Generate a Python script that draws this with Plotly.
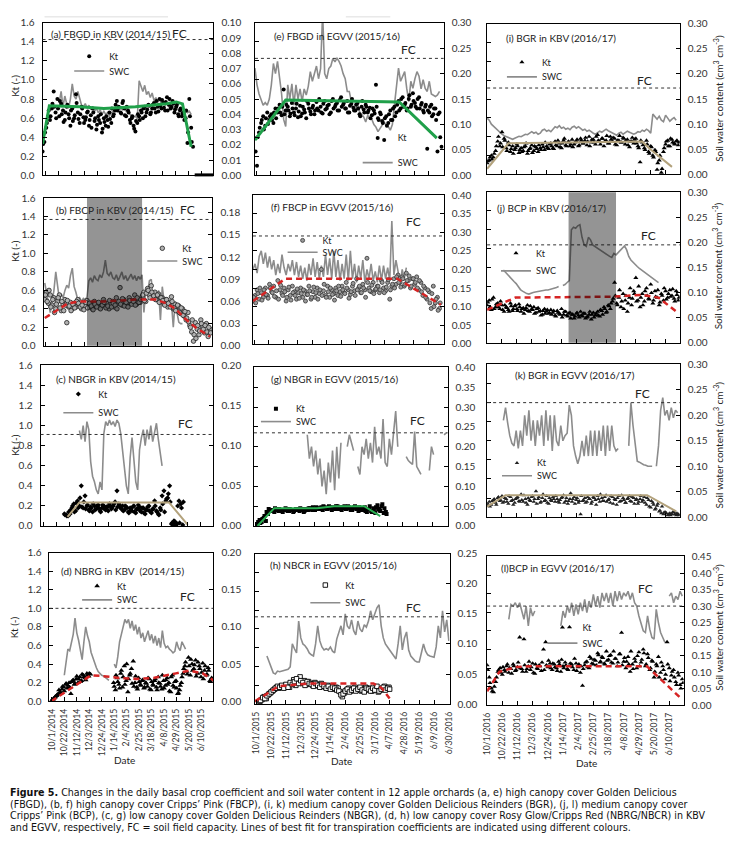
import datetime as dt
import plotly.graph_objects as go

W, H = 746, 853
FONT = "Lato, 'Open Sans', sans-serif"
CAP_FONT = "'Liberation Sans Narrow', 'DejaVu Sans Condensed', 'Arial Narrow', Lato, sans-serif"
N = None

# ---------------- date frames (one per column / season) ----------------
COL_START = {1: dt.date(2014, 9, 27), 2: dt.date(2015, 9, 29), 3: dt.date(2016, 10, 1)}
COL_END = {1: dt.date(2015, 6, 30), 2: dt.date(2016, 7, 1), 3: dt.date(2017, 6, 30)}
TICK0 = {1: "2014-10-01", 2: "2015-10-01", 3: "2016-10-01"}
STEP = 3  # days between listed readings

# ---------------- data: Kt (x100), SWC (x1000), fitted Kt lines ----------------
# (a) FBGD in KBV (2014/15)
KT_A_START = 0
KT_A = [25,35,50,62,58,70,88,66,80,62,75,68,58,72,64,52,70,60,85,66,55,72,61,58,66,52,63,70,57,48,
        62,55,45,60,52,58,66,55,62,68,78,72,66,76,70,62,68,58,60,52,46,55,62,68,60,72,66,74,64,70,
        76,66,72,80,70,76,68,82,74,70,78,66,72,64,68,62,66,60,34,80,50,30]
KT_A2_START = 1
KT_A2 = [33,45,55,68,62,75,72,60,70,78,64,56,66,74,60,68,57,63,76,59,64,70,55,61,67,58,50,66,60,53,
         58,64,49,56,62,51,59,70,64,74,68,71,65,78,63,72,66,55,62,49,57,64,58,66,70,62,69,73,66,74,
         70,78,67,73,79,71,77,68,80,72,75,69,74,62,70,65,58,68,45,62,35]
SWC_A_START = 27
SWC_A = [48,55,45,52,47,44,50,60,52,50,55,50,46,45,47,44,46,43,45,42,44,41,43,40,42,40,41,39,41,42,
         44,43,45,44,43,45,42,43,40,39,38,39,37,62,58,55,59,53,55,51,54,49,51,48,50,47,48,46,47,45,
         46,44,45,44,43,44,42,43,42,41,42,40]
FIT_A_DAY = [0, 11, 60, 99, 150, 200, 216, 226, 240]
FIT_A = [0.33, 0.73, 0.72, 0.70, 0.72, 0.75, 0.77, 0.75, 0.30]
FC_A = 0.089

# (b) FBCP in KBV (2014/15)
KT_B_START = 2
KT_B = [50,58,46,55,44,52,40,48,55,38,45,50,25,42,47,40,46,42,50,44,40,47,43,49,42,45,40,48,43,46,
        41,44,50,43,46,40,45,48,42,52,46,63,44,50,47,43,52,46,49,55,45,50,47,53,58,48,62,55,65,52,
        58,50,56,48,52,45,50,42,47,53,40,45,38,43,35,40,32,28,36,22,15,5,25,18,12,28,20,14,24,10,18]
KT_B2_START = 3
KT_B2 = [55,48,60,42,50,36,45,52,41,48,38,44,49,43,38,45,41,48,46,42,44,39,47,41,46,43,39,45,42,47,
         40,44,47,41,43,49,42,46,44,40,48,45,51,43,47,42,49,45,48,44,52,47,50,55,49,57,60,52,58,54,
         50,55,47,52,49,44,50,46,42,48,41,38,44,36,41,33,37,30,26,20,28,12,8,22,16,24,18,22,15,20,14]
SWC_B_START = 2
SWC_B = [85,70,55,45,60,75,100,80,62,70,65,75,82,78,95,105,80,72,62,65,60,64,62,66,88,92,86,95,90,88,
         96,92,100,116,98,95,100,92,90,96,88,94,100,90,95,88,92,97,90,95,88,94,90,96,45,75,72,88,90,65,
         72,60,75,35,80,60,55,62,50,58,25,60,45,32,30,30]
FIT_B_DAY = [2, 40, 60, 100, 150, 183, 200, 216, 230, 248, 272]
FIT_B = [0.30, 0.46, 0.48, 0.48, 0.50, 0.50, 0.46, 0.40, 0.30, 0.20, 0.10]
FC_B = 0.171
SHADE_B = (71, 161)

# (c) NBGR in KBV (2014/15)
KT_C_START = 38
KT_C = [12,11,10,12,18,22,15,25,20,40,18,30,20,16,19,14,20,17,21,15,18,20,16,19,22,17,20,24,35,22,
        18,20,16,19,14,18,15,20,13,17,19,14,18,12,16,20,14,17,25,15,12,18,30,35,25,28,40,2,1,4,2,25,22,1]
KT_C2_START = 39
KT_C2 = [11,10,14,16,20,14,23,18,28,19,24,17,21,15,18,22,16,20,18,14,21,17,19,15,20,18,22,16,19,21,
         17,15,20,18,13,16,19,14,17,21,15,18,13,16,19,15,13,17,20,14,11,16,22,14,27,32,24,3,5,0,20,3,18,24]
SWC_C_START = 62
SWC_C = [119,108,125,105,130,120,80,62,55,45,40,55,45,115,130,125,132,126,130,124,132,128,115,90,70,
         50,40,85,110,80,55,45,95,110,120,100,120,108,125,105,118,128,108,88,75]
FIT_C_DAY = [43, 62, 205, 235]
FIT_C = [0.09, 0.235, 0.235, 0.01]
FC_C = 0.114

# (d) NBRG in KBV (2014/15)
KT_D_START = 3
KT_D = [0,2,4,6,8,10,13,15,18,14,20,8,22,18,24,20,26,22,28,25,30,27,29,
        N,N,N,N,N,N,N,N,N,N,N,N,
        20,12,25,18,30,15,38,22,10,28,35,43,20,15,25,18,22,14,20,16,24,12,18,22,15,26,19,13,22,17,
        25,20,10,28,15,22,8,12,20,30,38,32,47,28,40,35,44,30,38,26,41,33,28,36,22,25]
KT_D2_START = 4
KT_D2 = [1,3,5,7,12,9,16,11,19,17,15,21,23,19,27,24,21,29,26,23,28,30,
         N,N,N,N,N,N,N,N,N,N,N,N,N,
         16,28,21,14,33,26,18,40,24,30,19,16,27,13,21,17,23,15,19,25,13,21,17,24,12,20,16,28,14,23,
         18,11,26,17,21,14,9,17,26,35,42,29,38,45,33,39,27,42,35,31,24,38,29,33,21]
SWC_D_START = 25
SWC_D = [35,55,70,68,78,90,112,92,82,70,56,80,100,88,80,66,58,50,45,40,37,35,34,32,30,28,N,N,
         50,45,60,80,90,100,110,105,110,98,108,95,103,90,100,85,92,80,88,95,82,90,78,88,75,85,72,95,
         78,72,74,70,68,65,67,80,72,68,80,75,70]
FIT_D_DAY = [3, 70, 91, 119, 147, 175, 213, 235, 258, 282]
FIT_D = [0.0, 0.28, 0.27, 0.25, 0.24, 0.25, 0.30, 0.33, 0.30, 0.20]
FC_D = 0.125

# (e) FBGD in EGVV (2015/16)
KT_E_START = 0
KT_E = [39,10,45,55,62,52,66,58,64,55,70,66,74,63,90,68,72,62,76,66,70,61,73,65,69,60,75,67,71,64,
        77,68,72,65,78,70,74,66,80,72,76,68,82,74,70,78,66,75,71,68,76,64,72,69,74,66,71,63,68,95,
        60,66,57,37,62,55,68,58,72,66,78,70,82,74,68,80,72,86,76,70,82,74,68,72,28,66,74,64,70,25,66,30]
KT_E2_START = 1
KT_E2 = [25,40,50,58,48,60,54,62,58,66,60,70,66,72,64,74,68,65,70,63,75,67,62,72,66,78,70,64,73,68,
         70,80,66,75,69,73,64,78,70,74,68,79,72,76,70,66,73,80,68,74,70,62,78,66,72,68,60,70,65,72,
         58,64,55,60,52,64,58,70,62,74,68,80,72,76,70,84,74,78,72,80,70,76,66,74,68,72,62,70,58,64,40]
SWC_E_START = 0
SWC_E = [211,178,160,148,138,143,138,150,178,220,200,224,190,160,110,96,178,150,180,138,
         178,150,170,145,170,158,175,204,185,200,215,190,210,320,200,190,210,215,230,223,
         230,224,215,200,190,165,165,145,130,125,145,125,120,115,105,118,112,110,100,95,
         86,92,100,105,98,96,89,100,138,171,211,185,195,204,171,145,185,171,190,204,
         195,170,188,171,165,185,160,158,155,158,165]
FIT_E_DAY = [0, 45, 211, 266]
FIT_E = [0.37, 0.79, 0.77, 0.39]
FC_E = 0.23

# (f) FBCP in EGVV (2015/16)
KT_F_START = 0
KT_F = [46,52,58,48,55,50,60,52,64,56,62,50,68,58,54,60,46,58,52,62,56,48,55,60,50,57,53,62,48,56,
        50,60,54,80,57,52,62,50,58,54,60,52,56,62,55,66,58,53,62,57,70,60,55,64,58,92,60,56,66,58,
        62,55,68,60,57,66,48,62,70,64,74,66,72,62,76,68,60,70,64,72,58,66,52,60,48,56,38,62,44,50,38]
KT_F2_START = 1
KT_F2 = [50,44,54,60,47,58,53,49,60,55,51,57,48,63,52,56,50,61,47,55,52,59,49,54,58,46,53,57,50,61,
         55,48,58,52,64,50,56,60,53,47,57,62,51,58,54,60,49,56,65,52,58,62,55,60,50,66,57,63,54,59,
         62,58,66,55,61,69,58,64,60,72,66,61,70,64,68,73,62,70,66,60,68,56,62,50,58,44,54,40,48,36,44]
SWC_F_START = 0
SWC_F = [200,215,190,235,250,215,245,205,235,200,225,185,215,190,240,205,185,215,195,225,
         185,220,180,210,175,205,170,215,185,230,180,220,175,210,180,240,185,230,175,250,
         180,225,170,215,175,240,170,250,175,215,165,210,175,225,165,200,175,215,170,195,
         165,210,170,210,175,205,170,330,185,225,195,160,200,175,205]
FIT_F_DAY = [0, 47, 209, 272]
FIT_F = [0.46, 0.70, 0.70, 0.42]
FC_F = 0.29

# (g) NBGR in EGVV (2015/16)
KT_G_START = 5
KT_G = [2,6,4,8,5,12,15,16,14,17,15,16,14,16,17,15,16,14,16,17,15,16,14,17,16,18,16,17,19,17,
        18,16,19,17,20,18,19,17,20,18,16,19,17,20,18,16,19,17,15,18,16,19,14,17,15,18,13,21,16,20,13,14]
KT_G2_START = 6
KT_G2 = [4,3,7,10,14,17,15,16,18,16,17,15,16,18,15,17,16,15,17,16,18,17,15,16,18,17,19,16,18,17,
         19,20,18,17,19,16,18,20,17,19,18,20,17,19,16,18,20,17,19,16,18,15,17,20,14,16,19,17,15,22,18,12]
SWC_G_START = 76
SWC_G = [230,170,200,150,190,130,170,100,140,80,160,110,190,90,200,120,210,N,N,200,
         230,210,190,N,150,130,200,180,220,170,210,160,250,180,200,170,270,160,150,220,
         180,240,290,200,N,N,N,175,165,160,155,238,150,140,130,N,N,N,140,200,180,N,N,N,N,230,235]
FIT_G_DAY = [5, 29, 90, 114, 157, 180]
FIT_G = [0.0, 0.18, 0.18, 0.20, 0.20, 0.10]
FC_G = 0.235

# (h) NBCR in EGVV (2015/16)
KT_H_START = 7
KT_H = [3,5,8,6,10,12,14,16,18,17,19,18,20,19,18,22,26,20,24,29,22,25,21,24,22,20,23,21,19,22,
        20,18,20,17,19,16,18,17,13,8,12,15,17,14,16,18,15,17,14,16,18,15,17,14,16,18,13,15,17,19,16,18]
KT_H2_START = 8
KT_H2 = [4,7,6,9,11,13,15,17,19,18,20,17,21,18,23,21,24,27,22,25,23,20,24,22,21,19,22,20,18,21,
         19,17,19,16,18,17,15,14,10,11,14,16,13,15,17,14,16,18,15,13,17,16,14,17,15,19,14,16,18,15,17,16]
SWC_H_START = 17
SWC_H = [80,70,60,52,50,55,54,55,56,57,58,62,100,92,85,138,110,100,97,92,85,82,80,100,130,105,95,90,92,90,
         95,88,85,108,120,130,115,150,130,125,140,122,115,138,125,120,132,128,138,155,140,150,160,165,130,
         110,100,95,90,85,80,75,100,130,90,110,120,90,80,75,72,70,70,85,100,88,82,80,79,78,95,130,110,155,
         120,140,105]
FIT_H_DAY = [0, 33, 75, 121, 168, 180, 191]
FIT_H = [0.03, 0.19, 0.22, 0.22, 0.22, 0.17, 0.06]
FC_H = 0.145

# (i) BGR in KBV (2016/17)
KT_I_START = 0
KT_I = [12,15,20,18,25,35,30,45,38,28,34,24,30,26,32,23,28,25,30,22,27,31,25,29,24,28,32,26,30,27,
        33,28,35,30,33,28,36,31,34,30,37,32,35,30,38,33,36,31,40,34,37,32,42,35,38,30,36,33,40,35,
        38,31,36,34,39,32,37,29,35,33,38,30,13,34,28,36,24,30,20,26,5,15,2,24,32,36,30,37,33,35,31]
KT_I2_START = 1
KT_I2 = [14,18,16,22,30,40,33,29,36,25,31,27,22,28,30,26,24,29,33,25,28,23,30,27,31,26,29,34,28,32,
         30,27,31,36,29,33,38,30,35,32,29,34,37,31,36,33,39,35,30,37,34,40,36,32,38,35,41,33,37,39,
         32,36,41,34,38,36,31,35,39,37,33,28,36,31,26,32,22,29,18,24,12,20,6,28,35,30,38,34,32,36,34]
SWC_I_START = 0
SWC_I = [112,108,100,96,90,86,84,80,77,75,73,71,70,72,74,76,75,78,80,79,83,85,82,84,80,82,88,90,86,88,
         85,90,95,93,97,92,94,90,92,89,94,96,92,95,91,88,90,86,88,84,82,80,83,86,84,88,90,87,85,82,
         80,78,82,84,80,83,86,84,82,80,82,85,84,88,86,90,87,82,120,115,110,116,108,105,118,112,106,110,113,108]
FIT_I_DAY = [0, 30, 219, 230, 261]
FIT_I = [0.06, 0.33, 0.35, 0.27, 0.08]
FC_I = 0.172

# (j) BCP in KBV (2016/17)
KT_J_START = 0
KT_J = [40,45,35,48,38,42,36,40,33,38,35,42,34,39,36,41,33,37,35,40,33,36,38,32,37,34,30,36,33,31,
        35,32,29,34,31,36,30,33,28,32,30,26,31,29,33,28,31,27,30,25,32,29,33,28,34,38,32,40,36,44,
        64,42,48,38,52,45,33,48,40,55,69,45,38,52,44,58,47,62,42,55,48,40,52,45,55,48,56,50,47,55,45]
KT_J2_START = 1
KT_J2 = [43,38,46,36,41,38,44,35,40,37,33,39,36,40,34,38,36,31,37,34,39,35,31,36,33,29,34,31,35,32,
         30,34,28,32,30,27,33,29,31,26,30,28,32,27,29,31,26,28,33,30,27,31,29,35,30,36,33,39,42,47,
         50,40,56,44,36,50,42,58,47,52,44,60,48,40,55,50,46,53,45,49,56,43,50,58,46,52,49,57,44,51,48]
SWC_J_START = 23
SWC_J = [145,140,135,130,126,122,118,112,106,103,100,98,97,99,100,101,102,103,103,104,
         105,105,106,107,108,110,112,N,114,116,120,124,225,230,228,233,235,210,195,192,
         210,205,195,192,190,186,184,180,178,175,172,170,178,175,180,183,188,193,185,172,
         165,160,156,152,148,145,141,138,135,132,129,126,123,120]
FIT_J_DAY = [0, 40, 178, 219, 242, 269]
FIT_J = [0.35, 0.48, 0.49, 0.51, 0.48, 0.32]
FC_J = 0.195
SHADE_J = (115, 182)

# (k) BGR in EGVV (2016/17)
KT_K_START = 0
KT_K = [12,16,13,18,15,20,17,22,16,19,14,21,18,15,20,17,24,16,19,13,18,21,16,27,19,15,20,17,22,14,
        18,21,16,19,15,20,23,17,14,19,16,21,18,15,3,17,20,16,19,14,21,18,22,16,20,17,23,18,15,21,
        19,13,22,17,20,15,19,22,16,20,18,14,19,16,21,13,18,10,15,8,12,6,4,3,5,2,4,3,5,2,3]
KT_K2_START = 1
KT_K2 = [14,11,17,19,13,21,18,15,20,16,22,17,13,19,21,16,18,23,15,20,17,22,19,14,21,16,24,18,15,20,
         17,19,22,16,18,21,15,20,17,25,19,14,20,17,22,18,15,21,19,16,20,13,19,24,17,21,16,19,22,14,
         18,20,16,23,18,15,20,17,21,14,19,16,22,18,15,20,11,17,13,9,14,7,11,5,4,3,2,5,3,4,2]
SWC_K_START = 23
SWC_K = [190,215,185,160,145,140,170,135,170,140,200,160,210,150,190,140,190,160,200,140,
         210,150,200,130,200,150,140,180,150,160,165,220,200,140,120,105,120,150,120,160,
         120,170,120,170,120,170,130,180,120,180,130,180,140,130,135,N,N,N,N,140,
         225,180,140,110,108,105,103,102,100,100,100,N,100,140,210,235,200,210,190,215,195,210,205]
FIT_K_DAY = [0, 26, 226, 267]
FIT_K = [0.11, 0.23, 0.23, 0.06]
FC_K = 0.225

# (l) BCP in EGVV (2016/17)
KT_L_START = 0
KT_L = [43,30,18,14,25,36,40,33,38,42,35,39,44,37,41,73,39,71,36,42,38,45,34,40,43,37,60,68,41,45,
        38,44,40,47,36,42,46,39,84,44,38,45,41,35,21,43,47,40,50,44,48,56,46,52,45,58,49,54,45,50,
        42,55,78,47,40,52,36,44,50,40,57,46,60,42,55,38,48,30,44,52,35,42,28,68,40,32,38,25,35,22,28]
KT_L2_START = 1
KT_L2 = [38,24,15,20,30,38,35,41,36,44,40,34,42,38,46,40,36,43,39,47,41,35,44,39,42,46,38,43,48,40,
         45,41,37,44,49,40,43,38,45,41,50,37,44,42,39,46,41,52,45,49,43,54,47,51,44,48,53,46,58,50,
         46,55,43,51,47,44,58,39,47,53,42,49,56,44,51,40,47,36,42,30,46,38,33,44,26,36,30,22,32,18,24]
SWC_L_START = 30
SWC_L = [260,305,300,310,295,310,285,260,300,240,295,270,285,N,N,N,N,N,N,N,N,N,N,N,
         240,285,265,300,280,310,270,305,275,310,285,320,280,315,295,335,300,330,295,340,
         315,340,310,340,300,345,315,345,320,340,330,345,320,340,310,300,270,245,225,220,
         270,230,205,200,290,250,220,205,190,N,330,340,310,330,320,345,330]
FIT_L_DAY = [0, 17, 40, 60, 221, 270]
FIT_L = [0.15, 0.36, 0.41, 0.42, 0.42, 0.06]
FC_L = 0.30

TITLES = ["(a) FBGD in KBV (2014/15)", "(b) FBCP in KBV (2014/15)", "(c) NBGR in KBV (2014/15)",
          "(d) NBRG in KBV  (2014/15)", "(e) FBGD in EGVV (2015/16)", "(f) FBCP in EGVV (2015/16)",
          "(g) NBGR in EGVV (2015/16)", "(h) NBCR in EGVV (2015/16)", "(i) BGR in KBV (2016/17)",
          "(j) BCP in KBV (2016/17)", "(k) BGR in EGVV (2016/17)", "(l)BCP in EGVV (2016/17)"]

CAPTION = [
    "<b>Figure 5.</b> Changes in the daily basal crop coefficient and soil water content in 12 apple orchards (a, e) high canopy cover Golden Delicious",
    "(FBGD), (b, f) high canopy cover Cripps\u2019 Pink (FBCP), (i, k) medium canopy cover Golden Delicious Reinders (BGR), (j, l) medium canopy cover",
    "Cripps\u2019 Pink (BCP), (c, g) low canopy cover Golden Delicious Reinders (NBGR), (d, h) low canopy cover Rosy Glow/Cripps Red (NBRG/NBCR) in KBV",
    "and EGVV, respectively, FC = soil field capacity. Lines of best fit for transpiration coefficients are indicated using different colours.",
]

# ---------------- styles / layout positions ----------------
GREEN = dict(color="#20a04a", width=3)
GREEN_THIN = dict(color="#2aad50", width=2)
TAN = dict(color="#b3a27c", width=2)
RED = dict(color="#d62424", width=2.5, dash="6px,4px")

PANELS = [
    dict(col=1, row=1, box=(38, 16, 211, 171), kt=[(KT_A_START, KT_A), (KT_A2_START, KT_A2)], swc=(SWC_A_START, SWC_A),
         fit=(FIT_A_DAY, FIT_A), fc=FC_A, rmax=0.1, rdtick=0.01, fit_style=GREEN,
         marker=dict(symbol="circle", size=4, color="black"),
         title_xy=(45, 27), fc_xy=(177, 27), leg=(108, 50, 65), shade=None),
    dict(col=1, row=2, box=(39, 194, 210, 344), kt=[(KT_B_START, KT_B), (KT_B2_START, KT_B2)], swc=(SWC_B_START, SWC_B),
         fit=(FIT_B_DAY, FIT_B), fc=FC_B, rmax=0.2, rdtick=0.03, fit_style=RED,
         marker=dict(symbol="circle", size=4.5, color="#b0b0b0", line=dict(color="#222", width=0.8)),
         title_xy=(50, 206), fc_xy=(185, 206), leg=(182, 245, 258), shade=SHADE_B),
    dict(col=1, row=3, box=(36, 364, 211, 527), kt=[(KT_C_START, KT_C), (KT_C2_START, KT_C2)], swc=(SWC_C_START, SWC_C),
         fit=(FIT_C_DAY, FIT_C), fc=FC_C, rmax=0.2, rdtick=0.05, fit_style=TAN,
         marker=dict(symbol="diamond", size=4, color="black"),
         title_xy=(50, 378), fc_xy=(183, 423), leg=(97, 393, 412), shade=None),
    dict(col=1, row=4, box=(45, 554, 211, 705), kt=[(KT_D_START, KT_D), (KT_D2_START, KT_D2)], swc=(SWC_D_START, SWC_D),
         fit=(FIT_D_DAY, FIT_D), fc=FC_D, rmax=0.2, rdtick=0.05, fit_style=RED,
         marker=dict(symbol="triangle-up", size=5, color="black"),
         title_xy=(55, 573), fc_xy=(185, 599), leg=(116, 588, 602), shade=None),
    dict(col=2, row=1, box=(253, 16, 444, 171), kt=[(KT_E_START, KT_E), (KT_E2_START, KT_E2)], swc=(SWC_E_START, SWC_E),
         fit=(FIT_E_DAY, FIT_E), fc=FC_E, rmax=0.3, rdtick=0.05, fit_style=GREEN,
         marker=dict(symbol="circle", size=4, color="black"),
         title_xy=(270, 29), fc_xy=(408, 43), leg=(400, 133, 158), shade=None),
    dict(col=2, row=2, box=(251, 191, 444, 342), kt=[(KT_F_START, KT_F), (KT_F2_START, KT_F2)], swc=(SWC_F_START, SWC_F),
         fit=(FIT_F_DAY, FIT_F), fc=FC_F, rmax=0.4, rdtick=0.05, fit_style=RED,
         marker=dict(symbol="circle", size=4, color="#9a9a9a", line=dict(color="#333", width=0.8)),
         title_xy=(267, 203), fc_xy=(413, 218), leg=(324, 237, 249), shade=None),
    dict(col=2, row=3, box=(252, 366, 448, 527), kt=[(KT_G_START, KT_G), (KT_G2_START, KT_G2)], swc=(SWC_G_START, SWC_G),
         fit=(FIT_G_DAY, FIT_G), fc=FC_G, rmax=0.4, rdtick=0.05, fit_style=GREEN_THIN,
         marker=dict(symbol="square", size=4, color="black"),
         title_xy=(267, 378), fc_xy=(418, 420), leg=(297, 408, 421), shade=None),
    dict(col=2, row=4, box=(253, 555, 450, 708), kt=[(KT_H_START, KT_H), (KT_H2_START, KT_H2)], swc=(SWC_H_START, SWC_H),
         fit=(FIT_H_DAY, FIT_H), fc=FC_H, rmax=0.25, rdtick=0.05, fit_style=RED,
         marker=dict(symbol="square", size=4.5, color="white", line=dict(color="black", width=0.9)),
         title_xy=(266, 567), fc_xy=(413, 610), leg=(347, 587, 605), shade=None),
    dict(col=3, row=1, box=(488, 17, 683, 170), kt=[(KT_I_START, KT_I), (KT_I2_START, KT_I2)], swc=(SWC_I_START, SWC_I),
         fit=(FIT_I_DAY, FIT_I), fc=FC_I, rmax=0.3, rdtick=0.05, fit_style=TAN,
         marker=dict(symbol="triangle-up", size=4.5, color="black"),
         title_xy=(505, 31), fc_xy=(647, 75), leg=(546, 56, 71), shade=None),
    dict(col=3, row=2, box=(488, 188, 683, 341), kt=[(KT_J_START, KT_J), (KT_J2_START, KT_J2)], swc=(SWC_J_START, SWC_J),
         fit=(FIT_J_DAY, FIT_J), fc=FC_J, rmax=0.3, rdtick=0.05, fit_style=RED,
         marker=dict(symbol="triangle-up", size=4.5, color="black"),
         title_xy=(496, 204), fc_xy=(651, 232), leg=(540, 250, 268), shade=SHADE_J),
    dict(col=3, row=3, box=(488, 363, 683, 518), kt=[(KT_K_START, KT_K), (KT_K2_START, KT_K2)], swc=(SWC_K_START, SWC_K),
         fit=(FIT_K_DAY, FIT_K), fc=FC_K, rmax=0.3, rdtick=0.05, fit_style=TAN,
         marker=dict(symbol="triangle-up", size=4, color="#222"),
         title_xy=(514, 374), fc_xy=(645, 392), leg=(541, 463, 476), shade=None),
    dict(col=3, row=4, box=(488, 558, 687, 709), kt=[(KT_L_START, KT_L), (KT_L2_START, KT_L2)], swc=(SWC_L_START, SWC_L),
         fit=(FIT_L_DAY, FIT_L), fc=FC_L, rmax=0.45, rdtick=0.05, fit_style=RED,
         marker=dict(symbol="triangle-up", size=4.5, color="black"),
         title_xy=(500, 570), fc_xy=(648, 591), leg=(587, 630, 646), shade=None),
]

KT_TITLE_Y = [80, 248, 445, 630]
SWC_TITLE_Y = [93, 263, 445, 630]
DATE_XY = [(121, 765), (341, 766), (589, 768)]
CAPTION_Y = [797, 809, 821, 833]
# faint scan artefacts along the top edge and the heavy stub on panel (a)'s base
FAINT_LINES = [((40, 10), (165, 10)), ((345, 10), (390, 10))]
STUB = ((192, 170.5), (211, 170.5))


def px(x):
    return x / W


def py(y):
    return 1 - y / H


def series(col, start, vals, scale):
    xs = [COL_START[col] + dt.timedelta(days=start + STEP * i) for i in range(len(vals))]
    ys = [None if v is None else v / scale for v in vals]
    return xs, ys


def leg_id(n):
    return "legend" if n == 1 else f"legend{n}"


layout = dict(
    width=W, height=H, margin=dict(l=0, r=0, t=0, b=0),
    paper_bgcolor="white", plot_bgcolor="white",
    font=dict(family=FONT, size=10, color="#222"),
    showlegend=True, hovermode=False,
)
traces, shapes, annotations = [], [], []
TICKFONT = dict(size=10, color="#333", family=FONT)
DATEFONT = dict(size=8.6, color="#333", family=FONT)

for p, P in enumerate(PANELS, start=1):
    col = P["col"]
    xid = "x" if p == 1 else f"x{p}"
    xkey = "xaxis" if p == 1 else f"xaxis{p}"
    sn, kn = 2 * p - 1, 2 * p
    sid = "y" if sn == 1 else f"y{sn}"
    skey = "yaxis" if sn == 1 else f"yaxis{sn}"
    kid, kkey = f"y{kn}", f"yaxis{kn}"
    x0, y0, x1, y1 = P["box"]
    bottom = P["row"] == 4

    layout[xkey] = dict(
        domain=[px(x0), px(x1)], anchor=sid, type="date",
        range=[COL_START[col].isoformat(), COL_END[col].isoformat()],
        tick0=TICK0[col], dtick=21 * 86400000, ticks="inside", ticklen=4, tickcolor="black",
        showline=True, linecolor="black", linewidth=1, mirror=True, showgrid=False, zeroline=False,
        showticklabels=bottom, tickformat="%-m/%-d/%Y", tickangle=-90, tickfont=DATEFONT,
        ticklabelstandoff=3,
    )
    layout[skey] = dict(
        domain=[py(y1), py(y0)], anchor=xid, side="right", range=[0, P["rmax"]],
        tick0=0, dtick=P["rdtick"], tickformat=".2f", ticks="inside", ticklen=4, tickcolor="black",
        showline=True, linecolor="black", linewidth=1, showgrid=False, zeroline=False,
        tickfont=TICKFONT, ticklabelstandoff=5,
    )
    layout[kkey] = dict(
        overlaying=sid, anchor=xid, side="left", range=[0, 1.6], tick0=0, dtick=0.2,
        tickformat=".1f", ticks="inside", ticklen=4, tickcolor="black",
        showline=True, linecolor="black", linewidth=1, showgrid=False, zeroline=False,
        showticklabels=(col == 1), tickfont=TICKFONT, ticklabelstandoff=5,
    )

    # soil water content (drawn first, underneath)
    sx, sy = series(col, P["swc"][0], P["swc"][1], 1000)
    traces.append(go.Scatter(
        x=sx, y=sy, mode="lines", name="SWC", line=dict(color="#8c8c8c", width=1.6),
        xaxis=xid, yaxis=sid, legend=leg_id(2 * p), connectgaps=False,
    ))
    # transpiration coefficient (two interleaved reading lists)
    kx, ky = [], []
    for start, vals in P["kt"]:
        xs, ys = series(col, start, vals, 100)
        kx += xs
        ky += ys
    traces.append(go.Scatter(
        x=kx, y=ky, mode="markers", name="Kt", marker=P["marker"],
        xaxis=xid, yaxis=kid, legend=leg_id(2 * p - 1),
    ))
    # line of best fit
    fx = [COL_START[col] + dt.timedelta(days=d) for d in P["fit"][0]]
    traces.append(go.Scatter(
        x=fx, y=P["fit"][1], mode="lines", line=P["fit_style"], showlegend=False,
        xaxis=xid, yaxis=kid,
    ))

    # legends (one per entry so each can be placed freely)
    tx, ky_, sy_ = P["leg"]
    for n, yy in ((2 * p - 1, ky_), (2 * p, sy_)):
        layout[leg_id(n)] = dict(
            x=px(tx - 43), y=py(yy), xanchor="left", yanchor="middle",
            bgcolor="rgba(0,0,0,0)", borderwidth=0, itemwidth=30,
            font=dict(size=9, family=FONT, color="#222"),
        )

    # field capacity
    shapes.append(dict(type="line", xref=f"{xid} domain", x0=0, x1=1, yref=sid, y0=P["fc"], y1=P["fc"],
                       line=dict(color="#333", width=1, dash="dot"), layer="above"))
    annotations.append(dict(text="FC", x=px(P["fc_xy"][0]), y=py(P["fc_xy"][1]), xref="paper", yref="paper",
                            showarrow=False, xanchor="center", yanchor="middle",
                            font=dict(size=12, family=FONT, color="#222")))
    # shaded period
    if P["shade"] is not None:
        shapes.append(dict(type="rect", xref=xid, yref=f"{sid} domain",
                           x0=COL_START[col] + dt.timedelta(days=P["shade"][0]),
                           x1=COL_START[col] + dt.timedelta(days=P["shade"][1]),
                           y0=0, y1=1, fillcolor="rgba(0,0,0,0.42)", line=dict(width=0), layer="above"))
    # panel title
    annotations.append(dict(text=TITLES[p - 1], x=px(P["title_xy"][0]), y=py(P["title_xy"][1]),
                            xref="paper", yref="paper", showarrow=False, xanchor="left", yanchor="middle",
                            font=dict(size=10, family=FONT, color="#222")))

for (a, b) in FAINT_LINES:
    shapes.append(dict(type="line", xref="paper", yref="paper", x0=px(a[0]), y0=py(a[1]), x1=px(b[0]), y1=py(b[1]),
                       line=dict(color="#dddddd", width=1)))
shapes.append(dict(type="line", xref="paper", yref="paper", x0=px(STUB[0][0]), y0=py(STUB[0][1]),
                   x1=px(STUB[1][0]), y1=py(STUB[1][1]), line=dict(color="black", width=3), layer="above"))

for yy in KT_TITLE_Y:
    annotations.append(dict(text="Kt (-)", x=px(10), y=py(yy), xref="paper", yref="paper", showarrow=False,
                            textangle=-90, xanchor="center", yanchor="middle",
                            font=dict(size=10, family=FONT, color="#222")))
for yy in SWC_TITLE_Y:
    annotations.append(dict(text="Soil water content (cm<sup>3</sup> cm<sup>-3</sup>)", x=px(722), y=py(yy),
                            xref="paper", yref="paper", showarrow=False, textangle=-90,
                            xanchor="center", yanchor="middle",
                            font=dict(size=10, family=FONT, color="#222")))
for (xx, yy) in DATE_XY:
    annotations.append(dict(text="Date", x=px(xx), y=py(yy), xref="paper", yref="paper", showarrow=False,
                            xanchor="center", yanchor="middle", font=dict(size=10, family=FONT, color="#222")))
for line, yy in zip(CAPTION, CAPTION_Y):
    annotations.append(dict(text=line, x=px(3), y=py(yy), xref="paper", yref="paper", showarrow=False,
                            xanchor="left", yanchor="middle", font=dict(size=10.6, family=CAP_FONT, color="#111")))

layout["shapes"] = shapes
layout["annotations"] = annotations

fig = go.Figure(data=traces, layout=layout)
fig.write_html("out.html", config={"displayModeBar": False},
               post_script="document.body.style.margin='0';")
